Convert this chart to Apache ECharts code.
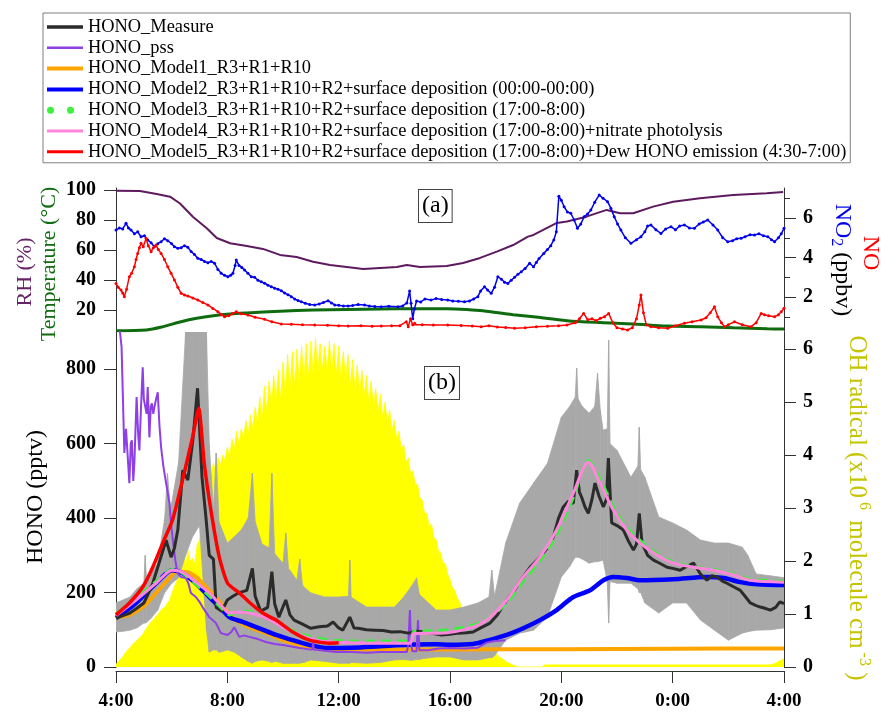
<!DOCTYPE html>
<html>
<head>
<meta charset="utf-8">
<script src="https://cdn.jsdelivr.net/npm/echarts@6/dist/echarts.min.js"></script>
<style>
  html, body { margin: 0; padding: 0; background: #fff; }
  #chart { width: 882px; height: 713px; }
</style>
</head>
<body>
<div id="chart"></div>
<script>
// ---------- (a) meteorology and NOx, [hour, value]; hours past 24 are the next day ----------
const rhData = [[4,99.5],[4.86,99.3],[5.46,97.3],[5.94,95.5],[6.3,91],[6.77,82],[7.26,74.5],[7.62,68],[8.1,64.5],[8.7,62.7],[9.28,60.7],[9.89,56.7],[10.49,55.3],[11.08,52.2],[11.69,50],[12.29,48.7],[12.88,47.3],[13.49,48],[14.09,48.7],[14.45,50],[14.92,48.7],[15.88,49.3],[16.47,51.3],[17.08,54.7],[17.68,58.9],[18.27,63.3],[18.8,68.9],[19.0,70],[19.84,78],[20.2,79],[20.9,82.2],[21.63,86.7],[22.11,84.5],[22.58,84.5],[23.3,88.9],[24.02,92.2],[24.98,94.5],[26.17,96.7],[27.38,97.8],[27.97,98.7]];

const tempData = [[4,6.2],[5.1,6.7],[5.7,8.9],[6.3,12],[6.9,14.5],[7.5,16.2],[8.1,17.3],[8.7,18],[9.89,19.2],[11.08,20],[12.29,20.4],[13.49,20.7],[14.67,20.9],[15.88,20.9],[16.6,20.4],[17.08,19.6],[17.8,18],[18.27,16.9],[19.0,15.5],[20.2,12.9],[21.4,11.6],[22.6,10.7],[23.8,9.3],[25.0,8.9],[26.2,8.2],[27.4,7.5],[28,7.3]];

const no2Data = [[4,5.39],[4.12,5.5],[4.24,5.45],[4.36,5.73],[4.45,5.5],[4.54,5.39],[4.66,5.2],[4.78,5.3],[4.9,5.05],[5.02,5.1],[5.14,4.89],[5.26,4.75],[5.38,4.55],[5.5,4.7],[5.62,4.8],[5.74,4.95],[5.86,4.85],[6.0,4.7],[6.1,4.55],[6.22,4.47],[6.34,4.5],[6.46,4.6],[6.58,4.52],[6.7,4.3],[6.82,4.15],[6.94,3.96],[7.06,3.9],[7.18,3.8],[7.3,3.74],[7.42,3.8],[7.54,3.71],[7.66,3.4],[7.78,3.2],[7.9,3.1],[8.02,3.03],[8.12,3.1],[8.2,3.2],[8.28,3.6],[8.32,3.87],[8.42,3.6],[8.52,3.5],[8.62,3.37],[8.74,3.2],[8.86,3.03],[8.98,3.0],[9.1,2.85],[9.22,2.77],[9.34,2.7],[9.46,2.6],[9.58,2.52],[9.7,2.45],[9.82,2.4],[9.94,2.32],[10.06,2.2],[10.18,2.12],[10.3,2.02],[10.42,1.9],[10.54,1.82],[10.66,1.76],[10.8,1.68],[10.96,1.62],[11.14,1.6],[11.3,1.65],[11.45,1.72],[11.62,1.81],[11.74,1.7],[11.86,1.6],[12.0,1.58],[12.17,1.55],[12.34,1.54],[12.5,1.57],[12.7,1.62],[12.93,1.6],[13.1,1.55],[13.3,1.52],[13.53,1.51],[13.8,1.53],[14.13,1.51],[14.3,1.55],[14.45,1.7],[14.55,2.3],[14.6,1.68],[14.66,0.9],[14.72,1.4],[14.8,1.8],[14.95,1.75],[15.1,1.9],[15.32,1.85],[15.5,1.92],[15.7,1.88],[15.92,1.85],[16.1,1.8],[16.3,1.78],[16.52,1.76],[16.7,1.8],[16.85,1.9],[17.0,2.02],[17.1,2.3],[17.24,2.52],[17.35,2.35],[17.48,2.19],[17.6,2.5],[17.72,3.03],[17.85,2.9],[17.96,2.75],[18.08,2.69],[18.2,2.85],[18.32,3.0],[18.44,3.15],[18.56,3.28],[18.7,3.45],[18.86,3.71],[19.0,3.53],[19.1,3.75],[19.2,3.95],[19.37,4.21],[19.5,4.4],[19.62,4.6],[19.73,4.89],[19.82,5.3],[19.91,7.1],[20.0,6.9],[20.1,6.57],[20.22,6.3],[20.34,6.24],[20.46,5.9],[20.58,5.48],[20.7,5.7],[20.82,6.07],[20.94,6.2],[21.06,6.4],[21.2,6.8],[21.36,7.16],[21.5,7.0],[21.66,6.83],[21.78,6.5],[21.9,6.07],[22.02,5.7],[22.14,5.39],[22.3,5.0],[22.5,4.72],[22.7,4.9],[22.86,5.05],[23.0,5.3],[23.1,5.6],[23.22,5.65],[23.4,5.4],[23.58,5.22],[23.75,5.45],[23.94,5.56],[24.1,5.4],[24.25,5.6],[24.42,5.65],[24.6,5.5],[24.78,5.48],[24.95,5.7],[25.1,5.8],[25.26,5.9],[25.45,5.65],[25.62,5.39],[25.8,5.0],[25.98,4.8],[26.15,4.85],[26.3,4.95],[26.46,4.97],[26.6,5.05],[26.78,5.15],[26.94,5.14],[27.1,5.2],[27.26,5.1],[27.42,5.05],[27.55,4.9],[27.66,4.8],[27.8,5.0],[27.9,5.2],[28.0,5.48]];

const noData = [[4,2.69],[4.08,2.5],[4.18,2.35],[4.24,2.2],[4.3,2.02],[4.38,2.4],[4.48,3.03],[4.56,3.2],[4.66,3.53],[4.72,3.9],[4.78,4.21],[4.84,4.5],[4.9,4.72],[4.98,4.55],[5.08,4.97],[5.16,4.6],[5.26,4.29],[5.34,4.5],[5.44,4.63],[5.52,4.4],[5.62,4.21],[5.74,3.9],[5.86,3.53],[5.98,3.2],[6.1,2.86],[6.22,2.5],[6.34,2.19],[6.46,2.1],[6.58,2.05],[6.76,1.95],[6.94,1.85],[7.12,1.72],[7.3,1.6],[7.48,1.42],[7.66,1.26],[7.78,1.12],[7.9,1.0],[8.05,1.05],[8.18,1.15],[8.32,1.26],[8.5,1.15],[8.74,1.09],[9.0,0.98],[9.34,0.87],[9.6,0.75],[9.94,0.63],[10.3,0.62],[10.7,0.6],[11.14,0.58],[11.6,0.57],[12.0,0.55],[12.34,0.53],[12.8,0.54],[13.2,0.52],[13.53,0.53],[13.9,0.54],[14.2,0.55],[14.43,0.75],[14.5,0.5],[14.58,0.9],[14.66,0.6],[14.73,0.67],[15.0,0.6],[15.4,0.59],[15.92,0.58],[16.4,0.56],[16.8,0.53],[17.12,0.5],[17.4,0.55],[17.7,0.48],[18.0,0.46],[18.32,0.42],[18.7,0.45],[19.1,0.5],[19.5,0.52],[19.9,0.55],[20.2,0.58],[20.5,0.7],[20.65,0.9],[20.8,1.17],[20.95,0.85],[21.1,0.9],[21.25,0.8],[21.4,0.92],[21.55,1.0],[21.7,1.17],[21.85,0.7],[22.0,0.45],[22.2,0.38],[22.38,0.33],[22.55,0.45],[22.7,0.9],[22.8,1.6],[22.86,2.1],[22.95,1.2],[23.05,0.6],[23.22,0.5],[23.5,0.45],[23.82,0.42],[24.1,0.55],[24.42,0.67],[24.7,0.75],[25.02,0.84],[25.2,0.95],[25.35,1.2],[25.5,1.51],[25.62,1.0],[25.75,0.7],[25.86,0.5],[26.0,0.6],[26.22,0.75],[26.5,0.6],[26.82,0.5],[27.0,0.7],[27.18,1.17],[27.3,1.1],[27.45,1.05],[27.66,1.0],[27.8,1.1],[27.9,1.25],[28.0,1.43]];

// ---------- (b) OH radical (x10^6 molecule cm-3) ----------
// daytime record, one value every 5 minutes starting at 4:00
const OH_START = 4, OH_STEP = 5 / 60;
const ohDay = [
  0.05,0.1,0.15,0.2,0.27,0.32,0.36,0.42,0.46,0.5,0.55,0.58,
  0.65,0.72,0.78,0.85,0.88,0.95,0.98,1.05,1.1,1.12,1.2,1.25,
  1.38,1.5,1.6,1.72,1.85,2.3,1.9,2.2,2.0,2.05,1.95,2.3,
  2.4,2.6,2.9,3.1,3.4,3.6,3.85,3.7,3.95,3.8,4.0,3.9,
  4.15,3.95,4.3,4.1,4.45,4.2,4.5,4.3,4.65,4.4,4.75,4.5,
  4.9,4.55,5.1,4.65,5.3,4.8,5.4,4.9,5.5,5.0,5.6,5.05,
  5.75,5.1,5.9,5.2,5.95,5.3,6.0,5.35,6.05,5.4,6.1,5.45,
  6.15,5.5,6.2,5.55,6.1,5.6,6.05,5.6,6.15,5.55,6.1,5.5,
  6.05,5.45,5.95,5.4,5.9,5.3,5.8,5.25,5.7,5.15,5.6,5.1,
  5.5,5.0,5.4,4.9,5.25,4.8,5.15,4.7,5.0,4.6,4.85,4.45,
  4.65,4.3,4.45,4.1,4.2,3.85,3.95,3.65,3.7,3.45,3.45,3.2,
  3.15,2.9,2.9,2.65,2.7,2.45,2.4,2.2,2.15,1.95,1.95,1.75,
  1.65,1.5,1.45,1.3,1.25,1.1,1.0,0.9,0.85,0.75,0.75,0.68,
  0.6,0.55,0.5,0.45,0.4,0.36,0.32,0.28,0.25,0.2,0.17,0.14,
  0.1,0.08,0.06,0.04,0.02,0.01,0
];
const ohNight = [[18.6,0],[19.3,0],[19.4,0.04],[27.5,0.04],[27.7,0.07],[28,0.16]];

// ---------- (b) HONO (pptv) ----------
// measurement uncertainty band: [hour, low, high]
const honoErr = [[4.0,94,172],[4.25,96,180],[4.5,99,188],[4.75,105,210],[5.0,118,225],[5.05,118,300],[5.1,120,230],[5.25,130,250],[5.5,153,279],[5.75,200,400],[5.85,210,520],[5.95,220,430],[6.0,225,440],[6.25,240,550],[6.5,300,900],[6.75,350,900],[7.0,380,900],[7.25,100,900],[7.35,40,600],[7.5,46,420],[7.6,46,575],[7.7,40,390],[7.75,40,380],[8.0,46,333],[8.25,40,350],[8.5,27,368],[8.75,15,400],[8.9,10,520],[9.0,15,390],[9.25,19,330],[9.5,15,320],[9.6,12,520],[9.7,15,305],[9.75,15,300],[10.0,10,279],[10.1,10,360],[10.2,10,262],[10.25,10,260],[10.5,10,233],[10.6,10,290],[10.7,12,220],[10.75,12,215],[11.0,19,199],[11.5,15,188],[12.0,10,188],[12.35,10,190],[12.4,10,287],[12.45,12,186],[12.5,12,185],[13.0,10,161],[13.5,12,161],[14.0,19,161],[14.3,20,185],[14.6,18,215],[14.8,20,239],[14.9,20,195],[15.0,22,188],[15.5,27,153],[16.0,27,153],[16.5,19,161],[17.0,19,172],[17.4,25,188],[17.5,25,260],[17.6,30,190],[18.0,72,333],[18.5,91,440],[19.0,99,494],[19.5,134,547],[20.0,242,671],[20.3,270,700],[20.5,295,725],[20.55,295,803],[20.6,295,720],[20.75,290,700],[21.0,279,682],[21.2,283,700],[21.3,283,789],[21.4,285,690],[21.5,287,636],[21.65,230,640],[21.7,118,878],[21.75,230,600],[22.0,225,582],[22.5,225,510],[22.75,210,540],[22.8,200,644],[22.85,200,530],[23.0,172,510],[23.5,145,403],[24.0,172,387],[24.5,172,368],[25.0,126,341],[25.5,99,333],[26.0,72,333],[26.5,91,322],[26.7,95,300],[27.0,99,250],[27.5,100,245],[28.0,105,240]];

const hMeasure = [[4.0,131],[4.25,138],[4.5,145],[4.75,158],[5.0,172],[5.15,195],[5.32,225],[5.55,280],[5.8,341],[5.98,295],[6.1,320],[6.22,368],[6.4,529],[6.58,502],[6.76,609],[6.93,749],[7.09,510],[7.23,403],[7.35,300],[7.5,290],[7.6,160],[7.8,150],[8.0,180],[8.2,190],[8.4,199],[8.7,206],[8.9,265],[9.0,190],[9.2,150],[9.45,160],[9.6,256],[9.7,170],[9.85,134],[10.1,180],[10.25,140],[10.4,126],[10.7,115],[11.0,104],[11.3,108],[11.6,110],[11.8,121],[12.0,105],[12.15,99],[12.4,134],[12.55,105],[12.7,104],[13.0,100],[13.3,99],[13.6,98],[13.9,94],[14.2,95],[14.5,91],[14.8,96],[15.1,94],[15.4,90],[15.7,86],[16.0,88],[16.3,91],[16.6,92],[16.83,94],[17.1,105],[17.44,118],[17.7,140],[18.04,180],[18.3,205],[18.63,242],[18.9,270],[19.23,295],[19.5,320],[19.71,349],[19.9,400],[20.07,430],[20.25,445],[20.43,440],[20.55,529],[20.65,470],[20.73,456],[20.85,430],[20.97,413],[21.1,450],[21.21,494],[21.35,460],[21.51,430],[21.62,450],[21.69,561],[21.75,470],[21.81,387],[22.0,380],[22.23,368],[22.4,340],[22.59,314],[22.7,330],[22.8,413],[22.9,333],[23.1,300],[23.31,287],[23.5,280],[23.8,268],[24.0,265],[24.27,260],[24.5,270],[24.75,279],[25.0,250],[25.23,233],[25.4,245],[25.59,242],[25.8,230],[25.95,225],[26.2,215],[26.43,206],[26.6,190],[26.79,172],[27.0,165],[27.15,161],[27.35,157],[27.51,153],[27.7,160],[27.85,175],[28.0,170]];

const hPss = [[4.0,1000],[4.2,860],[4.3,575],[4.36,640],[4.42,644],[4.48,494],[4.53,600],[4.57,609],[4.62,500],[4.66,547],[4.74,725],[4.8,620],[4.84,582],[4.9,700],[4.96,805],[5.0,720],[5.05,725],[5.1,680],[5.14,752],[5.2,617],[5.25,700],[5.29,708],[5.34,680],[5.38,698],[5.44,720],[5.5,738],[5.56,650],[5.62,591],[5.7,540],[5.8,494],[5.92,440],[6.0,368],[6.13,287],[6.21,252],[6.33,242],[6.51,239],[6.6,225],[6.69,199],[6.87,188],[7.0,175],[7.11,161],[7.35,134],[7.59,118],[7.77,91],[8.01,86],[8.15,95],[8.25,107],[8.43,81],[8.6,85],[8.79,81],[9.1,75],[9.39,67],[9.7,62],[9.99,59],[10.3,55],[10.6,51],[10.9,48],[11.06,47],[11.08,72],[11.1,47],[11.2,46],[11.9,40],[12.5,40],[13.0,38],[13.5,40],[14.0,40],[14.45,40],[14.5,60],[14.56,153],[14.6,60],[14.65,42],[14.8,42],[14.85,126],[14.9,45],[15.2,45],[15.6,50],[16.0,51],[16.5,50],[17.0,52],[17.3,65],[17.6,70],[18.0,72]];

const hModel1 = [[4.0,134],[4.48,140],[4.96,161],[5.44,199],[5.92,239],[6.15,255],[6.51,255],[6.87,242],[7.23,215],[7.59,188],[7.95,153],[8.3,126],[8.79,107],[9.39,91],[9.99,72],[10.6,59],[11.2,51],[11.8,48],[12.5,47],[16,47],[20,48],[24,49],[28,50]];

const hModel2 = [[4.0,132],[4.72,172],[5.44,225],[6.03,260],[6.39,252],[6.87,225],[7.35,188],[7.83,153],[8.07,134],[8.55,121],[9.15,104],[9.75,86],[10.35,72],[10.95,59],[11.66,51],[12.5,52],[13.5,56],[14.5,60],[15.5,61],[16.0,60],[16.83,62],[17.4,72],[18.04,86],[18.63,104],[19.23,126],[19.83,153],[20.43,188],[21.03,206],[21.51,233],[21.87,242],[22.35,239],[22.83,233],[24.03,236],[25.23,242],[25.83,239],[26.43,228],[27.03,222],[28.0,220]];

const hModel3 = [[4.0,143],[4.72,185],[5.44,230],[6.03,262],[6.39,252],[6.87,222],[7.35,190],[7.83,155],[8.07,140],[8.43,150],[8.79,150],[9.39,138],[9.99,112],[10.6,90],[11.2,78],[11.78,72],[12.5,70],[13.5,70],[14.56,70],[14.7,95],[15.1,97],[15.64,98],[16.83,112],[17.44,135],[18.04,172],[18.63,230],[19.23,285],[19.83,355],[20.43,455],[20.97,555],[21.39,505],[21.87,430],[22.35,375],[22.83,340],[23.43,305],[24.03,282],[24.75,270],[25.47,262],[26.19,250],[26.79,236],[28.0,230]];

const hModel4 = [[4.0,138],[4.72,180],[5.44,225],[6.03,260],[6.39,255],[6.87,228],[7.35,199],[7.83,161],[8.07,145],[8.43,148],[8.79,145],[9.39,132],[9.99,107],[10.6,86],[11.2,72],[11.78,67],[12.5,65],[13.5,64],[14.56,64],[14.7,90],[15.1,91],[15.64,91],[16.83,107],[17.44,134],[18.04,180],[18.63,242],[19.23,295],[19.83,368],[20.43,467],[20.97,550],[21.39,494],[21.87,421],[22.35,368],[22.83,333],[23.43,301],[24.03,279],[24.75,268],[25.47,260],[26.19,247],[26.79,233],[28.0,228]];

const hModel5 = [[4.0,140],[4.48,172],[4.96,215],[5.32,268],[5.68,333],[6.03,395],[6.39,502],[6.75,617],[6.97,695],[7.17,547],[7.41,421],[7.71,295],[8.01,225],[8.43,199],[8.79,174],[9.27,145],[9.75,126],[10.35,94],[10.95,72],[11.66,64],[12.0,65]];

// ---------- labels ----------
const seriesNames = [
  'HONO_Measure',
  'HONO_pss',
  'HONO_Model1_R3+R1+R10',
  'HONO_Model2_R3+R1+R10+R2+surface deposition (00:00-00:00)',
  'HONO_Model3_R3+R1+R10+R2+surface deposition (17:00-8:00)',
  'HONO_Model4_R3+R1+R10+R2+surface deposition (17:00-8:00)+nitrate photolysis',
  'HONO_Model5_R3+R1+R10+R2+surface deposition (17:00-8:00)+Dew HONO emission (4:30-7:00)'
];
const hourTicks = [4, 8, 12, 16, 20, 24, 28];
const rhTicks = [20, 40, 60, 80, 100];
const noxLabelTicks = [2, 4, 6];
const noxMinorTicks = [1, 3, 5, 7];
const honoTicks = [0, 200, 400, 600, 800];
const ohTicks = [0, 1, 2, 3, 4, 5, 6];

// ---------- styling ----------
const SERIF = "'Liberation Serif', 'Times New Roman', serif";
const AX = '#333';
const C = {
  rh: '#5E1A5E', temp: '#0E6B0E', no2: '#0000EE', no: '#FF0000',
  oh: '#FFFF00', err: '#A8A8A8',
  measure: '#2B2B2B', pss: '#8E3FE6', m1: '#FFA500', m2: '#0000FF',
  m3: '#3CF03C', m4: '#FF85DD', m5: '#FF0000'
};

const tickLabel = { fontFamily: SERIF, fontWeight: 'bold', fontSize: 20, color: '#000' };

function yAxisBase(extra) {
  return Object.assign({
    type: 'value',
    splitLine: { show: false },
    axisLine: { show: true, onZero: false, lineStyle: { color: AX, width: 1 } },
    axisTick: { show: true, inside: false, length: 12, lineStyle: { color: AX } }
  }, extra);
}

const ohSeriesData = ohDay.map((v, i) => [OH_START + i * OH_STEP, v]).concat(ohNight);

// uncertainty band as consecutive quads: [t0, lo0, hi0, t1, lo1, hi1]
const errQuads = honoErr.slice(0, -1).map((d, i) => d.concat(honoErr[i + 1]));

function lineIcon(h) { return 'path://M0,0H36V' + h + 'H0Z'; }
const dotsIcon = 'path://M0,3.5A3.5,3.5,0,1,0,7,3.5A3.5,3.5,0,1,0,0,3.5ZM20,3.5A3.5,3.5,0,1,0,27,3.5A3.5,3.5,0,1,0,20,3.5ZM36,0L36,7';

const chart = echarts.init(document.getElementById('chart'), null, { renderer: 'canvas' });

const option = {
  animation: false,
  backgroundColor: '#fff',
  grid: [
    { left: 116, width: 668, top: 188, height: 143 },
    { left: 116, width: 668, top: 332, height: 335 }
  ],
  xAxis: [
    { type: 'value', gridIndex: 0, min: 4, max: 28, show: false },
    {
      type: 'value', gridIndex: 1, min: 4, max: 28, interval: 4, offset: 4,
      splitLine: { show: false },
      axisLine: { onZero: false, lineStyle: { color: AX } },
      axisTick: { length: 12, lineStyle: { color: AX } },
      axisLabel: Object.assign({}, tickLabel, {
        margin: 21, fontSize: 19,
        customValues: hourTicks,
        formatter: v => (Math.round(v) % 24) + ':00'
      })
    }
  ],
  yAxis: [
    yAxisBase({ gridIndex: 0, position: 'left', min: 6, max: 101.3,
      axisTick: { show: true, length: 12, customValues: rhTicks, lineStyle: { color: AX } },
      axisLabel: Object.assign({ margin: 20, customValues: rhTicks }, tickLabel) }),
    yAxisBase({ gridIndex: 0, position: 'right', min: 0.28, max: 7.52,
      axisTick: { show: true, length: 12, customValues: noxLabelTicks, lineStyle: { color: AX } },
      axisLabel: Object.assign({ margin: 19, customValues: noxLabelTicks }, tickLabel) }),
    yAxisBase({ gridIndex: 0, position: 'right', min: 0.28, max: 7.52,
      axisLine: { show: false },
      axisTick: { show: true, length: 6, customValues: noxMinorTicks, lineStyle: { color: AX } },
      axisLabel: { show: false } }),
    yAxisBase({ gridIndex: 1, position: 'left', min: 0, max: 900,
      axisTick: { show: true, length: 12, customValues: honoTicks, lineStyle: { color: AX } },
      axisLabel: Object.assign({ margin: 20, customValues: honoTicks }, tickLabel) }),
    yAxisBase({ gridIndex: 1, position: 'right', min: 0, max: 6.32,
      axisTick: { show: true, length: 12, customValues: ohTicks, lineStyle: { color: AX } },
      axisLabel: Object.assign({ margin: 19, customValues: ohTicks }, tickLabel) })
  ],
  legend: {
    orient: 'vertical', left: 43, top: 13,
    padding: [5, 4, 2, 4],
    itemWidth: 36, itemHeight: 14, itemGap: 2.8,
    borderColor: '#7F7F7F', borderWidth: 1, backgroundColor: '#fff',
    selectedMode: false,
    itemStyle: { borderWidth: 0 },
    textStyle: { fontFamily: SERIF, fontSize: 18.4, color: '#000', lineHeight: 18 },
    data: [
      { name: seriesNames[0], icon: lineIcon(3.5) },
      { name: seriesNames[1], icon: lineIcon(2.5) },
      { name: seriesNames[2], icon: lineIcon(4) },
      { name: seriesNames[3], icon: lineIcon(4) },
      { name: seriesNames[4], icon: dotsIcon },
      { name: seriesNames[5], icon: lineIcon(3) },
      { name: seriesNames[6], icon: lineIcon(3) }
    ]
  },
  series: [
    // ---- panel (a)
    { name: 'RH', type: 'line', xAxisIndex: 0, yAxisIndex: 0, data: rhData, symbol: 'none',
      lineStyle: { color: C.rh, width: 2 }, z: 3 },
    { name: 'Temperature', type: 'line', xAxisIndex: 0, yAxisIndex: 0, data: tempData, symbol: 'none',
      smooth: 0.3, lineStyle: { color: C.temp, width: 3 }, z: 3 },
    { name: 'NO2', type: 'line', xAxisIndex: 0, yAxisIndex: 1, data: no2Data,
      symbol: 'circle', symbolSize: 3, showAllSymbol: true,
      itemStyle: { color: C.no2 }, lineStyle: { color: C.no2, width: 1.5 }, z: 4 },
    { name: 'NO', type: 'line', xAxisIndex: 0, yAxisIndex: 1, data: noData,
      symbol: 'circle', symbolSize: 3, showAllSymbol: true,
      itemStyle: { color: C.no }, lineStyle: { color: C.no, width: 1.5 }, z: 5 },

    // ---- panel (b)
    { name: 'OH', type: 'line', xAxisIndex: 1, yAxisIndex: 4, data: ohSeriesData, symbol: 'none',
      lineStyle: { color: C.oh, width: 0.8 }, areaStyle: { color: C.oh, opacity: 1 }, z: 1 },
    { name: 'HONO uncertainty', type: 'custom', xAxisIndex: 1, yAxisIndex: 3, data: errQuads,
      silent: true, z: 2, clip: true,
      encode: { x: [0, 3], y: [1, 2, 4, 5] },
      renderItem: function (params, api) {
        const a = api.coord([api.value(0), api.value(1)]);
        const b = api.coord([api.value(0), api.value(2)]);
        const c = api.coord([api.value(3), api.value(5)]);
        const d = api.coord([api.value(3), api.value(4)]);
        return { type: 'polygon', shape: { points: [a, b, c, d] },
          style: { fill: C.err, stroke: C.err, lineWidth: 0.8 } };
      } },

    { name: seriesNames[2], type: 'line', xAxisIndex: 1, yAxisIndex: 3, data: hModel1, symbol: 'none',
      smooth: 0.3, color: C.m1, lineStyle: { color: C.m1, width: 4 }, z: 3 },
    { name: seriesNames[3], type: 'line', xAxisIndex: 1, yAxisIndex: 3, data: hModel2, symbol: 'none',
      smooth: 0.3, color: C.m2, lineStyle: { color: C.m2, width: 4.5 }, z: 4 },
    { name: seriesNames[1], type: 'line', xAxisIndex: 1, yAxisIndex: 3, data: hPss, symbol: 'none',
      color: C.pss, lineStyle: { color: C.pss, width: 2 }, z: 5 },
    { name: seriesNames[0], type: 'line', xAxisIndex: 1, yAxisIndex: 3, data: hMeasure, symbol: 'none',
      color: C.measure, lineStyle: { color: C.measure, width: 3 }, z: 6 },
    { name: seriesNames[4], type: 'line', xAxisIndex: 1, yAxisIndex: 3, data: hModel3, symbol: 'none',
      smooth: 0.3, color: C.m3, lineStyle: { color: C.m3, width: 3, type: [10, 6] }, z: 7 },
    { name: seriesNames[5], type: 'line', xAxisIndex: 1, yAxisIndex: 3, data: hModel4, symbol: 'none',
      smooth: 0.3, color: C.m4, lineStyle: { color: C.m4, width: 3 }, z: 8 },
    { name: seriesNames[6], type: 'line', xAxisIndex: 1, yAxisIndex: 3, data: hModel5, symbol: 'none',
      smooth: 0.2, color: C.m5, lineStyle: { color: C.m5, width: 3.5 }, z: 9 }
  ],
  graphic: [
    { type: 'text', x: 25, y: 272, rotation: Math.PI / 2, z: 100,
      style: { text: 'RH (%)', font: '22px ' + SERIF, fill: '#662266', align: 'center', verticalAlign: 'middle' } },
    { type: 'text', x: 49, y: 264, rotation: Math.PI / 2, z: 100,
      style: { text: 'Temperature (°C)', font: '22px ' + SERIF, fill: '#0E6B0E', align: 'center', verticalAlign: 'middle' } },
    { type: 'text', x: 36, y: 497, rotation: Math.PI / 2, z: 100,
      style: { text: 'HONO (pptv)', font: '24px ' + SERIF, fill: '#000', align: 'center', verticalAlign: 'middle' } },
    { type: 'text', x: 842, y: 260, rotation: -Math.PI / 2, z: 100,
      style: {
        text: '{n|NO}{s|2}{p| (ppbv)}', align: 'center', verticalAlign: 'middle',
        rich: {
          n: { fontFamily: SERIF, fontSize: 24, lineHeight: 28, fill: '#0000EE' },
          s: { fontFamily: SERIF, fontSize: 16, lineHeight: 12, fill: '#0000EE', verticalAlign: 'bottom' },
          p: { fontFamily: SERIF, fontSize: 24, lineHeight: 28, fill: '#000' }
        }
      } },
    { type: 'text', x: 870, y: 253, rotation: -Math.PI / 2, z: 100,
      style: { text: 'NO', font: '24px ' + SERIF, fill: '#FF0000', align: 'center', verticalAlign: 'middle' } },
    { type: 'text', x: 857, y: 508, rotation: -Math.PI / 2, z: 100,
      style: {
        text: '{m|OH radical (x10}{u| 6 }{m| molecule cm}{u| -3}{m| )}', align: 'center', verticalAlign: 'middle',
        rich: {
          m: { fontFamily: SERIF, fontSize: 25, lineHeight: 30, fill: '#C4C400' },
          u: { fontFamily: SERIF, fontSize: 16, lineHeight: 14, fill: '#C4C400', verticalAlign: 'top' }
        }
      } },
    { type: 'text', x: 419, y: 190, z: 100,
      style: { text: '(a)', font: '24px ' + SERIF, fill: '#000', align: 'left', verticalAlign: 'top',
        backgroundColor: '#fff', borderColor: '#444', borderWidth: 1, padding: [4, 3, 4, 3], lineHeight: 24 } },
    { type: 'text', x: 425, y: 367, z: 100,
      style: { text: '(b)', font: '24px ' + SERIF, fill: '#000', align: 'left', verticalAlign: 'top',
        backgroundColor: '#fff', borderColor: '#444', borderWidth: 1, padding: [4, 3, 4, 3], lineHeight: 24 } }
  ]
};

chart.setOption(option);
</script>
</body>
</html>
